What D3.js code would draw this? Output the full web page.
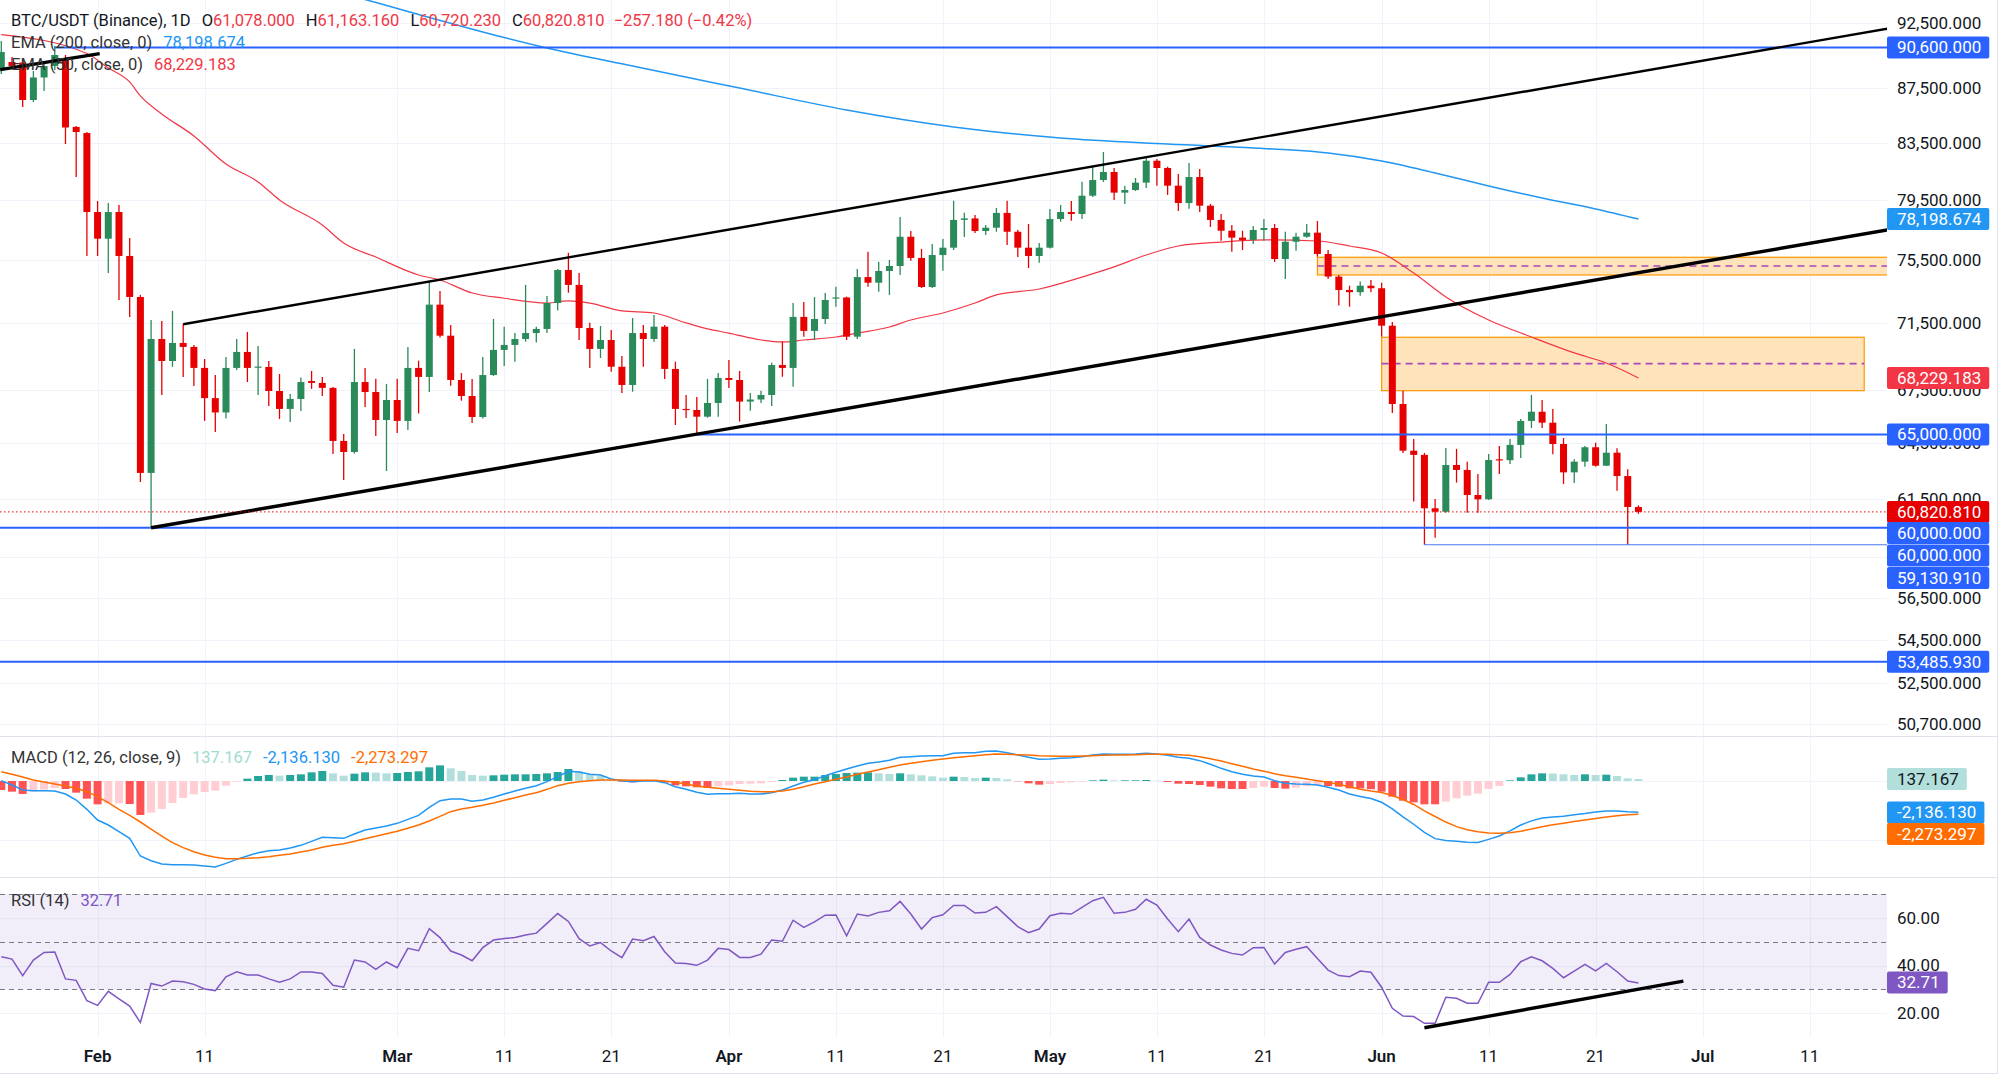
<!DOCTYPE html>
<html>
<head>
<meta charset="utf-8">
<script src="https://cdn.jsdelivr.net/npm/d3@7"></script>
<style>
  body { margin: 0; background: #fff; }
  svg { display: block; font-family: Roboto, "Noto Sans", sans-serif; }
</style>
</head>
<body>
<svg id="chart" width="2000" height="1087"></svg>
<script>
// ---- data (index 0 = 2026-01-23, one entry per day) ----
var firstDay = "2026-01-23";

var open = [88870,89480,89440,86610,88300,89170,89630,84630,84190,78670,76890,78670,75760,73140,62890,70550,69230,70310,70070,68820,
67060,66240,68820,69770,68850,68880,67470,66440,67010,68050,67940,67650,64640,64030,67990,67410,65810,66950,65760,68820,
68290,72660,70750,68110,67180,65980,68400,69890,70190,70550,70910,71160,72760,74850,73900,71220,69950,70490,68890,67820,
70910,70550,71300,68760,66440,66380,66000,66780,68230,68110,66860,66980,67240,68990,68820,71900,71040,71770,73050,73110,
70690,74400,74040,74790,75110,77020,75630,73770,75820,76300,78140,78240,77400,77620,78610,77350,76300,75760,76300,78200,
78670,78540,79780,80860,81420,79990,80170,80680,82210,81700,80470,79280,81070,79100,78140,77420,76960,76810,77470,77600,
75560,76690,77020,77290,75890,74430,73580,73440,73850,73690,71360,66720,64100,63870,61010,60830,63320,63050,61710,61480,
63630,63580,64420,65760,66280,65660,64470,62920,63500,64290,63280,63990,62720,61078];
var high = [91110,89870,89790,88790,89480,90720,90020,84700,84260,79420,79280,79150,76940,73270,71710,71650,72270,71460,70190,69350,
68400,69470,70550,70980,70130,69230,68460,67300,68260,68640,68290,67700,65030,69950,68820,68190,67880,68190,70070,69250,
74090,73520,71400,68520,68170,69470,71770,71300,70910,73900,71300,73200,74920,75970,74660,71540,71340,71100,69530,71830,
71400,72020,71400,69190,67240,67130,68170,68520,69290,68640,67360,67490,69130,70390,72760,72830,73140,73390,73790,73160,
74920,76040,75390,75500,78340,77400,76220,76540,76870,79440,78630,78470,77800,78940,79440,77470,77870,76610,78880,79150,
79420,80750,81770,82830,81700,80470,81000,82480,82330,81790,81280,82050,81630,79220,78540,77800,77420,77740,78200,77870,
77350,77290,77870,78070,76150,74530,73850,74110,74210,74040,71590,67490,64750,63980,61500,64250,64200,63500,62830,63920,
64360,64750,65870,67240,66950,66440,64800,63630,64360,64540,65590,64230,63090,61163];
var low = [88560,89020,86090,86460,87280,88870,83400,81070,75760,75760,74660,72950,71900,62400,60000,67240,68880,68290,67760,65760,
65140,65890,68700,67990,67240,66610,65870,65700,66320,67590,67180,63920,62510,63940,66550,64920,62990,65080,65250,66180,
67410,70640,67780,66910,65640,65890,68350,68930,69190,70390,70330,70910,72290,73410,70490,68820,69410,68600,67360,67430,
68890,70390,68170,65530,65930,65030,65940,66000,67650,65720,66340,66780,66610,68300,67720,70690,70490,71460,72530,70490,
70550,73790,73470,73270,74530,75450,73700,73710,74810,76150,77000,77270,77140,77350,76480,75690,74980,75320,76250,78020,
78090,78200,79700,80730,79490,79220,80100,80310,80470,79830,78740,78900,78670,77670,76760,76040,76150,76540,76760,75370,
74280,76100,76960,75710,74280,72600,72530,73220,73440,70690,66210,63980,61360,59131,59490,60780,62370,60780,60780,61450,
62830,63370,63700,65360,65360,63900,62300,62350,63230,63230,63270,61940,59131,60720];
var close = [90250,89170,86610,88300,89170,90020,84590,84260,78670,76890,78670,75760,73140,62890,70550,69230,70310,70070,68820,67060,
66240,68820,69770,68820,68900,67470,66440,67010,67990,67940,67650,64640,64030,67990,67410,65810,66950,65760,68820,68290,
72660,70750,68110,67180,65980,68400,69890,70190,70550,70910,71160,72760,74850,73900,71220,69950,70490,68890,67820,70910,
70550,71300,68760,66440,66380,66000,66780,68230,68110,66860,66980,67240,68990,68820,71900,71040,71770,72950,73110,70690,
74400,74040,74790,75110,77020,75630,73770,75820,76300,78140,78240,77400,77620,78610,77350,76300,75760,76300,78200,78670,
78540,79780,80860,81420,79990,80170,80680,82210,81700,80470,79280,81070,79100,78140,77420,76960,76810,77470,77600,75560,
76690,77020,77290,75890,74430,73580,73440,73850,73690,71360,66720,64100,63870,61010,60830,63320,63050,61710,61480,63590,
63580,64420,65760,66280,65660,64470,62920,63500,64290,63280,63990,62720,61078,60820.81];

// EMA lines read at selected days: [day index, value]
var ema50 = [[0,91610],[8,90130],[10,89030],[12,87960],[13,86910],[15,85580],[18,83980],[21,81980],[24,80730],[26,79490],
[30,77800],[32,76610],[35,75690],[39,74530],[41,74210],[44,73390],[47,73060],[51,72760],[53,72890],[55,72760],[58,72270],
[61,72140],[64,71530],[66,71160],[68,70910],[71,70490],[73,70370],[75,70490],[78,70670],[80,70910],[83,71280],[85,71710],
[88,72140],[91,72760],[93,73270],[97,73640],[101,74400],[104,75050],[107,75820],[110,76410],[114,76670],[118,76810],
[123,76740],[126,76410],[129,75950],[132,74660],[135,73140],[139,71710],[143,70670],[147,69710],[150,69110],[153,68229.183]];
var ema200 = [[29,95630],[34,94410],[39,93210],[47,91380],[51,90560],[59,89170],[69,87500],[79,85870],[89,84630],[99,83830],
[109,83400],[119,83040],[124,82760],[129,82190],[134,81350],[139,80450],[144,79620],[149,78880],[153,78198.674]];

var macd = [23,-273,-614,-659,-659,-682,-887,-1296,-1933,-2661,-3002,-3456,-3911,-5117,-5435,-5662,-5708,-5708,-5730,-5799,
-5867,-5617,-5344,-5117,-4889,-4753,-4707,-4571,-4389,-4116,-3843,-3866,-3911,-3616,-3343,-3206,-3070,-2888,-2615,-2342,
-1796,-1342,-1228,-1228,-1387,-1296,-1114,-887,-682,-500,-318,-45,296,659,614,455,409,136,23,-45,
0,23,-114,-387,-569,-773,-910,-864,-864,-841,-887,-887,-796,-614,-341,-91,91,364,591,819,
1023,1205,1296,1410,1615,1660,1706,1728,1728,1887,1933,1933,2024,2047,
1933,1774,1615,1478,1501,1546,1592,1660,1774,1842,1819,1819,1842,1887,1842,1751,1615,1546,1387,1137,
864,637,455,341,273,23,-159,-205,-227,-273,-432,-614,-887,-1050,-1200,-1450,-1900,-2450,-2950,-3500,
-3930,-4060,-4110,-4170,-4200,-3980,-3750,-3400,-3000,-2720,-2530,-2450,-2400,-2300,-2220,-2120,-2040,-2040,-2100,-2136.13];
var signal = [637,455,273,68,-68,-205,-341,-500,-728,-1069,-1478,-1933,-2342,-2797,-3275,-3752,-4207,-4548,-4821,-5048,
-5207,-5298,-5298,-5276,-5230,-5162,-5071,-4980,-4844,-4707,-4525,-4389,-4275,-4116,-3934,-3775,-3593,-3434,-3229,-3002,
-2729,-2410,-2092,-1910,-1796,-1660,-1501,-1319,-1137,-955,-796,-569,-318,-159,-45,23,68,68,68,45,
45,45,0,-91,-205,-341,-432,-500,-569,-637,-705,-728,-728,-682,-569,-387,-205,-45,114,273,
455,614,773,932,1091,1205,1319,1410,1501,1592,1660,1728,1796,1842,
1819,1796,1774,1728,1706,1683,1683,1706,1728,1751,1774,1774,1796,1819,1819,1819,1796,1751,1660,1524,
1364,1182,1001,819,659,500,364,250,136,23,-91,-227,-387,-560,-680,-780,-990,-1260,-1600,-2040,
-2420,-2800,-3110,-3330,-3460,-3540,-3560,-3530,-3420,-3280,-3120,-2990,-2880,-2770,-2660,-2550,-2450,-2370,-2310,-2273.297];
var hist = [-614,-728,-887,-727,-591,-477,-546,-796,-1205,-1592,-1524,-1523,-1569,-2320,-2160,-1910,-1501,-1160,-909,-751,
-660,-319,-46,159,341,409,364,409,455,591,682,523,364,500,591,569,523,546,614,660,
933,1068,864,682,409,364,387,432,455,455,478,524,614,818,659,432,341,68,-45,-90,
-45,-22,-114,-296,-364,-432,-478,-364,-295,-204,-182,-159,-68,68,228,296,296,409,477,546,
568,591,523,478,524,455,387,318,227,295,273,205,228,205,
114,-22,-159,-250,-205,-137,-91,-46,46,91,45,45,46,68,23,-68,-181,-205,-273,-387,
-500,-545,-546,-478,-386,-477,-523,-455,-363,-296,-341,-387,-500,-500,-560,-728,-1069,-1342,-1455,-1592,
-1592,-1410,-1182,-1000,-864,-546,-341,40,250,455,523,510,455,409,455,409,430,341,182,137.167];
var rsi = [43.7,42.7,35.8,42.3,45.5,45.7,34.4,33.8,25.3,23.3,29.2,26.0,23.0,16.1,32.5,31.4,33.5,33.2,32.1,30.2,
29.5,35.3,37.4,36.0,36.0,34.4,33.0,34.4,37.3,37.3,36.7,31.7,30.9,42.3,41.5,38.4,41.5,39.1,47.2,46.2,
55.5,51.7,46.1,44.4,42.0,47.5,50.7,51.3,51.8,52.8,53.6,57.7,61.8,58.5,51.3,48.2,49.6,46.1,43.3,51.1,
50.4,52.2,45.8,41.1,40.9,40.1,42.3,47.2,46.7,43.4,43.4,44.8,50.7,50.2,59.0,56.0,58.3,61.1,61.2,52.5,
61.6,60.8,62.3,63.0,66.9,61.6,55.3,60.1,61.3,65.2,65.2,62.0,62.3,64.7,
60.5,56.3,53.8,55.3,60.9,61.9,61.6,64.4,67.2,68.6,61.9,62.3,63.6,67.8,65.4,59.5,54.2,59.5,51.8,48.6,
46.5,45.1,44.4,47.5,47.6,40.6,45.5,46.8,47.9,43.0,38.1,35.8,35.3,37.7,37.2,30.9,22.1,18.8,18.6,15.8,
15.8,26.7,26.3,24.2,24.2,33.0,33.0,36.3,41.6,43.7,42.0,38.8,34.9,37.7,40.5,37.8,40.9,37.4,33.5,32.71];

// drawings: [day index, price]
var upperChannel = [[17,71450],[179,92480]];
var lowerChannel = [[14,60000],[179,77800]];
var oldTrend = [[-0.1,88900],[9.2,90130]];
var rsiTrend = [[133,13.9],[157.2,33.5]];
var levels = [
  {price: 90600, from: 5},
  {price: 65000, from: 65},
  {price: 60000, from: -2},
  {price: 59130.91, from: 133, thin: true},
  {price: 53485.93, from: -2}
];
var zones = [
  {from: 123, to: 190, top: 75674, bottom: 74534, mid: 75111},
  {from: 129, to: 174.1, top: 70653, bottom: 67489, mid: 69071}
];
var priceTicks = [92500,87500,83500,79500,75500,71500,67500,64500,61500,58500,56500,54500,52500,50700];
var rsiTicks = [60, 40, 20];
var dateTicks = ["2026-02-01","2026-02-11","2026-03-01","2026-03-11","2026-03-21","2026-04-01","2026-04-11","2026-04-21",
  "2026-05-01","2026-05-11","2026-05-21","2026-06-01","2026-06-11","2026-06-21","2026-07-01","2026-07-11"];

// ---- layout ----
var plotW = 1887;
var pricePane = [0, 736], macdPane = [737, 877], rsiPane = [878, 1037];
var green = "#2b8a5a", red = "#e60000", blue = "#2962ff";
var axisFont = 17, legendFont = 16.5;
var svg = d3.select("#chart");

var parse = d3.utcParse("%Y-%m-%d");
var day0 = parse(firstDay);
function dayDate(i) { return new Date(day0.getTime() + i * 864e5); }
var dates = close.map(function(d, i) { return dayDate(i); });

var x = d3.scaleUtc()
  .domain([dayDate(-0.12), dayDate(176.23)])
  .range([0, plotW]);
var y = d3.scaleLog().domain([50180, 94370]).range([pricePane[1], pricePane[0]]);
var yM = d3.scaleLinear().domain([-6548, 3001]).range([macdPane[1], macdPane[0]]);
var yR = d3.scaleLinear().domain([10.04, 76.71]).range([rsiPane[1], rsiPane[0]]);

var defs = svg.append("defs");
defs.append("clipPath").attr("id", "clipPrice")
  .append("rect").attr("x", 0).attr("y", 0).attr("width", plotW).attr("height", pricePane[1]);
defs.append("clipPath").attr("id", "clipRsi")
  .append("rect").attr("x", 0).attr("y", rsiPane[0]).attr("width", plotW).attr("height", rsiPane[1] - rsiPane[0]);

// ---- grid ----
var grid = svg.append("g").attr("stroke", "#f0f3fa").attr("stroke-width", 1);
grid.selectAll(".vg").data(dateTicks).enter().append("line")
  .attr("x1", function(d) { return Math.round(x(parse(d))) + 0.5; })
  .attr("x2", function(d) { return Math.round(x(parse(d))) + 0.5; })
  .attr("y1", 0).attr("y2", rsiPane[1]);
grid.selectAll(".hg").data(priceTicks).enter().append("line")
  .attr("x1", 0).attr("x2", plotW)
  .attr("y1", function(d) { return Math.round(y(d)) + 0.5; })
  .attr("y2", function(d) { return Math.round(y(d)) + 0.5; });
grid.selectAll(".mg").data([0, -4000]).enter().append("line")
  .attr("x1", 0).attr("x2", plotW)
  .attr("y1", function(d) { return Math.round(yM(d)) + 0.5; })
  .attr("y2", function(d) { return Math.round(yM(d)) + 0.5; });
grid.selectAll(".rg").data(rsiTicks).enter().append("line")
  .attr("x1", 0).attr("x2", plotW)
  .attr("y1", function(d) { return Math.round(yR(d)) + 0.5; })
  .attr("y2", function(d) { return Math.round(yR(d)) + 0.5; });

// pane separators
var sep = svg.append("g").attr("stroke", "#e0e3eb").attr("stroke-width", 1);
[736.5, 877.5, 1073.5].forEach(function(v) {
  sep.append("line").attr("x1", 0).attr("x2", 1997).attr("y1", v).attr("y2", v);
});
sep.append("line").attr("x1", 1997.5).attr("x2", 1997.5).attr("y1", 0).attr("y2", 1074);

// ---- price pane ----
var gp = svg.append("g").attr("clip-path", "url(#clipPrice)");

// zones
zones.forEach(function(z) {
  gp.append("rect")
    .attr("x", x(dayDate(z.from))).attr("y", y(z.top))
    .attr("width", x(dayDate(z.to)) - x(dayDate(z.from)))
    .attr("height", y(z.bottom) - y(z.top))
    .attr("fill", "#ffe0b2").attr("fill-opacity", 0.9)
    .attr("stroke", "#ff9800").attr("stroke-width", 1.2);
  gp.append("line")
    .attr("x1", x(dayDate(z.from))).attr("x2", x(dayDate(z.to)))
    .attr("y1", y(z.mid)).attr("y2", y(z.mid))
    .attr("stroke", "#ab47bc").attr("stroke-width", 1.6).attr("stroke-dasharray", "7,5");
});

// EMAs
var emaLine = d3.line()
  .x(function(d) { return x(dayDate(d[0])); })
  .y(function(d) { return y(d[1]); })
  .curve(d3.curveMonotoneX);
gp.append("path").datum(ema200).attr("d", emaLine)
  .attr("fill", "none").attr("stroke", "#2196f3").attr("stroke-width", 1.5);
gp.append("path").datum(ema50).attr("d", emaLine)
  .attr("fill", "none").attr("stroke", "#f23645").attr("stroke-width", 1.2);

// candles
var candles = gp.selectAll(".candle").data(close).enter().append("g")
  .attr("transform", function(d, i) { return "translate(" + x(dates[i]) + ",0)"; });
candles.append("line")
  .attr("x1", 0).attr("x2", 0)
  .attr("y1", function(d, i) { return y(high[i]); })
  .attr("y2", function(d, i) { return y(low[i]); })
  .attr("stroke", function(d, i) { return close[i] >= open[i] ? green : red; })
  .attr("stroke-width", 1.3);
candles.append("rect")
  .attr("x", -3.5).attr("width", 7)
  .attr("y", function(d, i) { return y(Math.max(open[i], close[i])); })
  .attr("height", function(d, i) { return Math.max(1.2, y(Math.min(open[i], close[i])) - y(Math.max(open[i], close[i]))); })
  .attr("fill", function(d, i) { return close[i] >= open[i] ? green : red; });

// horizontal levels
levels.forEach(function(l) {
  gp.append("line")
    .attr("x1", x(dayDate(l.from))).attr("x2", plotW)
    .attr("y1", y(l.price)).attr("y2", y(l.price))
    .attr("stroke", l.thin ? "#4a78f5" : blue).attr("stroke-width", l.thin ? 1.2 : 2);
});

// trend lines
var drawLine = d3.line()
  .x(function(d) { return x(dayDate(d[0])); })
  .y(function(d) { return y(d[1]); });
gp.append("path").datum(upperChannel).attr("d", drawLine).attr("stroke", "#000").attr("stroke-width", 2.4).attr("fill", "none");
gp.append("path").datum(lowerChannel).attr("d", drawLine).attr("stroke", "#000").attr("stroke-width", 3.4).attr("fill", "none");
gp.append("path").datum(oldTrend).attr("d", drawLine).attr("stroke", "#000").attr("stroke-width", 3.4).attr("fill", "none");

// last price line
var lastPrice = close[close.length - 1];
gp.append("line")
  .attr("x1", 0).attr("x2", plotW)
  .attr("y1", y(lastPrice)).attr("y2", y(lastPrice))
  .attr("stroke", red).attr("stroke-width", 1).attr("stroke-dasharray", "1.5,2.5");

// ---- MACD pane ----
var gm = svg.append("g");
var bw = 8;
gm.selectAll(".bar").data(hist).enter().append("rect")
  .attr("x", function(d, i) { return x(dates[i]) - bw / 2; })
  .attr("width", bw)
  .attr("y", function(d) { return d >= 0 ? yM(d) : yM(0); })
  .attr("height", function(d) { return Math.abs(yM(d) - yM(0)); })
  .attr("fill", function(d, i) {
    var prev = i > 0 ? hist[i - 1] : d;
    if (d >= 0) return d >= prev ? "#26a69a" : "#b2dfdb";
    return d <= prev ? "#ff5252" : "#ffcdd2";
  });
var mLine = d3.line().x(function(d, i) { return x(dates[i]); }).y(function(d) { return yM(d); });
gm.append("path").datum(macd).attr("d", mLine).attr("fill", "none").attr("stroke", "#2196f3").attr("stroke-width", 1.5);
gm.append("path").datum(signal).attr("d", mLine).attr("fill", "none").attr("stroke", "#ff6d00").attr("stroke-width", 1.5);

// ---- RSI pane ----
var gr = svg.append("g").attr("clip-path", "url(#clipRsi)");
gr.append("rect").attr("x", 0).attr("width", plotW)
  .attr("y", yR(70)).attr("height", yR(30) - yR(70))
  .attr("fill", "#7e57c2").attr("fill-opacity", 0.1);
[70, 50, 30].forEach(function(v) {
  gr.append("line").attr("x1", 0).attr("x2", plotW)
    .attr("y1", Math.round(yR(v)) + 0.5).attr("y2", Math.round(yR(v)) + 0.5)
    .attr("stroke", "#787b86").attr("stroke-width", 1.2).attr("stroke-dasharray", "5,4");
});
var rLine = d3.line().x(function(d, i) { return x(dates[i]); }).y(function(d) { return yR(d); });
gr.append("path").datum(rsi).attr("d", rLine).attr("fill", "none").attr("stroke", "#7e57c2").attr("stroke-width", 1.5);
gr.append("path").datum(rsiTrend)
  .attr("d", d3.line().x(function(d) { return x(dayDate(d[0])); }).y(function(d) { return yR(d[1]); }))
  .attr("stroke", "#000").attr("stroke-width", 3.4).attr("fill", "none");

// ---- time axis ----
var fmtMonth = d3.utcFormat("%b"), fmtDay = d3.utcFormat("%-d");
svg.append("g").selectAll("text").data(dateTicks).enter().append("text")
  .attr("x", function(d) { return x(parse(d)); })
  .attr("y", 1062)
  .attr("text-anchor", "middle")
  .attr("font-size", axisFont)
  .attr("font-weight", function(d) { return parse(d).getUTCDate() === 1 ? 600 : 400; })
  .attr("fill", "#131722")
  .text(function(d) { var t = parse(d); return t.getUTCDate() === 1 ? fmtMonth(t) : fmtDay(t); });

// ---- right axis ----
var axis = svg.append("g").attr("font-size", axisFont).attr("fill", "#131722");
axis.selectAll(".pt").data(priceTicks).enter().append("text")
  .attr("x", 1897).attr("y", function(d) { return y(d); }).attr("dy", "0.35em")
  .text(function(d) { return d3.format(",.3f")(d); });
axis.selectAll(".rt").data(rsiTicks).enter().append("text")
  .attr("x", 1897).attr("y", function(d) { return yR(d); }).attr("dy", "0.35em")
  .text(function(d) { return d3.format(".2f")(d); });

function tag(cy, text, bg, fg) {
  var g = svg.append("g");
  var r = g.append("rect").attr("x", 1887).attr("y", cy - 11).attr("height", 22).attr("rx", 2).attr("fill", bg);
  var t = g.append("text").attr("x", 1897).attr("y", cy).attr("dy", "0.35em")
    .attr("font-size", axisFont).attr("fill", fg || "#fff").text(text);
  r.attr("width", t.node().getComputedTextLength() + 18);
}
tag(y(90600), "90,600.000", blue);
tag(y(78198.674), "78,198.674", "#2196f3");
tag(y(68229.183), "68,229.183", "#f23645");
tag(y(65000), "65,000.000", blue);
tag(y(lastPrice), "60,820.810", red);
tag(533, "60,000.000", blue);
tag(555.5, "60,000.000", blue);
tag(578, "59,130.910", blue);
tag(y(53485.93), "53,485.930", blue);
tag(779, "137.167", "#b2dfdb", "#131722");
tag(812.5, "-2,136.130", "#2196f3");
tag(834, "-2,273.297", "#ff6d00");
tag(982.5, "32.71", "#7e57c2");

// ---- legends ----
function legend(yPos, parts) {
  var t = svg.append("text").attr("x", 11).attr("y", yPos).attr("dy", "0.35em").attr("font-size", legendFont);
  parts.forEach(function(p) {
    t.append("tspan").attr("fill", p[1]).attr("dx", p[2] || 0).text(p[0]);
  });
}
var dark = "#131722", redT = "#f23645";
legend(20, [["BTC/USDT (Binance), 1D", dark], ["O", dark, 11], ["61,078.000", redT], ["H", dark, 11], ["61,163.160", redT],
  ["L", dark, 11], ["60,720.230", redT], ["C", dark, 11], ["60,820.810", redT], ["\u2212257.180 (\u22120.42%)", redT, 9]]);
legend(42, [["EMA (200, close, 0)", "#333"], ["78,198.674", "#2196f3", 11]]);
legend(64, [["EMA (50, close, 0)", "#333"], ["68,229.183", "#f23645", 11]]);
legend(757, [["MACD (12, 26, close, 9)", "#333"], ["137.167", "#9fdcd0", 11], ["-2,136.130", "#2196f3", 11], ["-2,273.297", "#ff6d00", 11]]);
legend(900, [["RSI (14)", "#333"], ["32.71", "#7e57c2", 11]]);
</script>
</body>
</html>
